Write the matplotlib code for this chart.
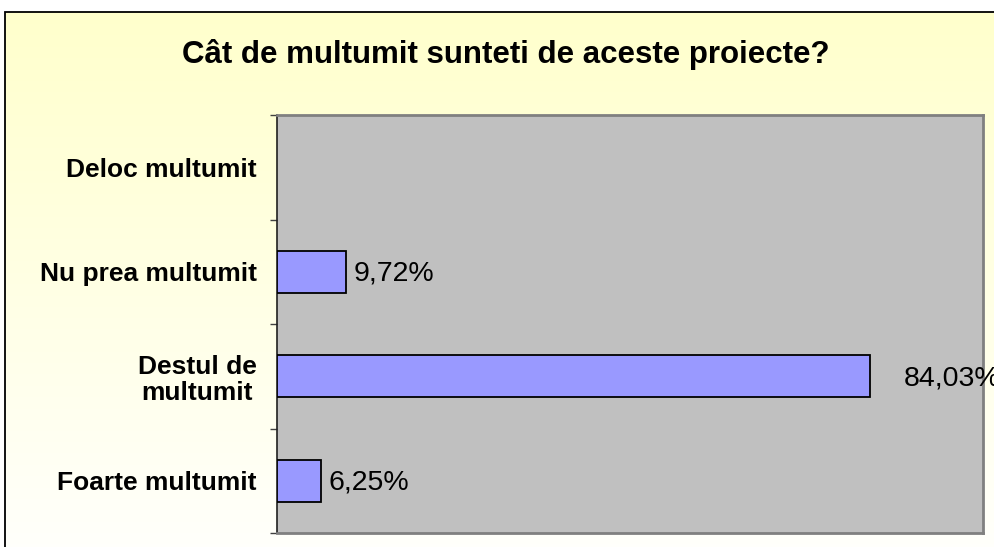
import numpy as np
import matplotlib
matplotlib.use("Agg")
import matplotlib.pyplot as plt
from matplotlib.patches import Rectangle

categories = ["Deloc multumit", "Nu prea multumit", "Destul de\nmultumit", "Foarte multumit"]
values = [0.0, 9.72, 84.03, 6.25]
value_labels = ["", "9,72%", "84,03%", "6,25%"]
title = "Cât de multumit sunteti de aceste proiecte?"

W, H = 994, 547
fig = plt.figure(figsize=(W / 100, H / 100), dpi=100, facecolor="white")

# background chart area with vertical gradient
x0, ytop = 5, 12
bg = fig.add_axes([x0 / W, 0, 1 - x0 / W, (H - ytop) / H])
grad = np.linspace(0, 1, 256).reshape(-1, 1)
top = np.array([1.0, 1.0, 0.80])
bot = np.array([1.0, 1.0, 0.985])
img = top[None, None, :] * (1 - grad[..., None]) + bot[None, None, :] * grad[..., None]
bg.imshow(img, aspect="auto", extent=[0, 1, 0, 1], origin="upper")
bg.set_xlim(0, 1)
bg.set_ylim(0, 1)
bg.axis("off")
fig.add_artist(Rectangle((x0 / W, -0.01), 1.0, (H - ytop) / H + 0.01, transform=fig.transFigure,
                         fill=False, edgecolor="black", linewidth=1.3))

fig.text(506 / W, 1 - 54 / H, title, ha="center", va="center", fontsize=22.5,
         fontweight="bold", family="Liberation Sans")

# plot area
L, R, T, B = 277, 983, 115, 533
ax = fig.add_axes([L / W, (H - B) / H, (R - L) / W, (B - T) / H])
ax.set_facecolor("#C0C0C0")
n = len(categories)
ypos = np.arange(n)
edges = ["black" if v > 0 else "none" for v in values]
ax.barh(ypos, values, height=0.40, color="#9999FF", edgecolor=edges, linewidth=1.3, zorder=3)
ax.set_xlim(0, 100)
ax.set_ylim(n - 0.5, -0.5)
ax.set_xticks([])
ax.set_yticks(ypos)
ax.set_yticklabels(categories, fontsize=19, fontweight="bold", family="Liberation Sans",
                   multialignment="center", linespacing=1.1)
ax.tick_params(axis="y", which="major", length=0, pad=14.5)
ax.set_yticks(np.arange(n + 1) - 0.5, minor=True)
ax.tick_params(axis="y", which="minor", length=5, width=1, color="#404040", direction="out")
for s in ["top", "right", "bottom"]:
    ax.spines[s].set_color("#808080")
    ax.spines[s].set_linewidth(2)
ax.spines["left"].set_color("#202020")
ax.spines["left"].set_linewidth(1.2)

offsets = [6, 6, 24, 5]
for i, (v, lab) in enumerate(zip(values, value_labels)):
    if lab:
        ax.annotate(lab, xy=(v, i), xytext=(offsets[i], -1.5), textcoords="offset points",
                    ha="left", va="center", fontsize=20.5, family="Liberation Sans",
                    annotation_clip=False, zorder=4)

fig.savefig("out.png", dpi=100, facecolor="white")
